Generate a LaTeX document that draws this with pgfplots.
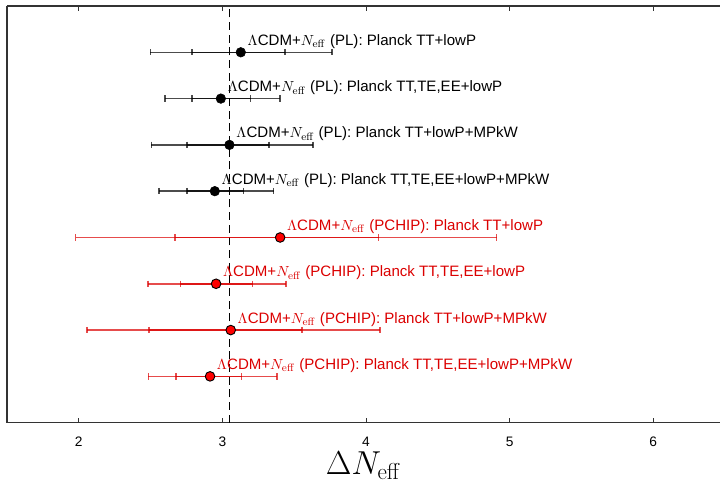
\documentclass[border=0pt]{standalone}
\usepackage[no-math]{fontspec}
\setmainfont{Liberation Sans}
\usepackage{pgfplots}
\pgfplotsset{compat=1.18}
\definecolor{plred}{rgb}{0.86,0,0}

\newcommand{\lab}{$\Lambda$CDM+$N_{\mathrm{eff}}$}
% one row: colour, y, 95% low, 68% low, best fit, 68% high, 95% high
\newcommand{\erow}[7]{%
  \addplot[#1, opacity=0.7, line width=1.1pt, mark=|, mark size=2.4pt] coordinates {(#3,#2) (#7,#2)};
  \addplot[#1, opacity=0.7, line width=1.1pt, mark=|, mark size=2.4pt] coordinates {(#4,#2) (#6,#2)};
}

\begin{document}
\begin{tikzpicture}
\begin{axis}[
  name=ax,
  scale only axis,
  width=534.75pt, height=312.5pt,
  xmin=1.5, xmax=6.465, ymin=0, ymax=9,
  axis x line*=box, axis y line*=left,
  axis line style={black!80, line width=0.8pt},
  ytick=\empty,
  xtick={2,3,4,5,6},
  tick align=inside,
  major tick length=3.5pt,
  tick style={black!80, line width=0.7pt},
  /pgf/number format/assume math mode=true,
  xticklabel style={font=\fontsize{10.3}{11}\selectfont, anchor=base, yshift=-18pt},
  xlabel={$\Delta N_{\mathrm{eff}}$},
  xlabel style={font=\fontsize{24}{26}\selectfont, at={(axis description cs:0.5,0)}, anchor=base, yshift=-39pt},
  clip=false,
]
% reference value
\addplot[black, line width=0.75pt, dash pattern=on 6pt off 3.5pt] coordinates {(3.046,0) (3.046,9)};

% PL
\erow{black}{8}{2.499}{2.789}{3.128}{3.435}{3.764}
\erow{black}{7}{2.599}{2.789}{2.989}{3.196}{3.400}
\erow{black}{6}{2.506}{2.752}{3.049}{3.323}{3.632}
\erow{black}{5}{2.557}{2.752}{2.947}{3.147}{3.356}
% PCHIP
\erow{plred}{4}{1.977}{2.671}{3.402}{4.087}{4.909}
\erow{plred}{3}{2.483}{2.708}{2.956}{3.210}{3.444}
\erow{plred}{2}{2.056}{2.490}{3.058}{3.555}{4.098}
\erow{plred}{1}{2.485}{2.678}{2.914}{3.133}{3.381}

% best fits
\addplot[only marks, mark=*, mark size=3.6pt, mark options={fill=black, draw=black}] coordinates {
  (3.128,8) (2.989,7) (3.049,6) (2.947,5)};
\addplot[only marks, mark=*, mark size=3.6pt, mark options={fill=red, draw=black, line width=0.7pt}] coordinates {
  (3.402,4) (2.956,3) (3.058,2) (2.914,1)};

\begin{scope}[every node/.style={anchor=base west, xshift=5pt, yshift=5.2pt, font=\fontsize{11.3}{13}\selectfont, inner sep=0pt}]
\node at (axis cs:3.128,8) {\lab{} (PL): Planck TT+lowP};
\node at (axis cs:2.989,7) {\lab{} (PL): Planck TT,TE,EE+lowP};
\node at (axis cs:3.049,6) {\lab{} (PL): Planck TT+lowP+MPkW};
\node at (axis cs:2.947,5) {\lab{} (PL): Planck TT,TE,EE+lowP+MPkW};
\node[text=plred] at (axis cs:3.402,4) {\lab{} (PCHIP): Planck TT+lowP};
\node[text=plred] at (axis cs:2.956,3) {\lab{} (PCHIP): Planck TT,TE,EE+lowP};
\node[text=plred] at (axis cs:3.058,2) {\lab{} (PCHIP): Planck TT+lowP+MPkW};
\node[text=plred] at (axis cs:2.914,1) {\lab{} (PCHIP): Planck TT,TE,EE+lowP+MPkW};
\end{scope}
\end{axis}
\pgfresetboundingbox
\useasboundingbox ([xshift=-5.25pt, yshift=-45.2pt]ax.south west) rectangle ([yshift=4.5pt]ax.north east);
\end{tikzpicture}
\end{document}
